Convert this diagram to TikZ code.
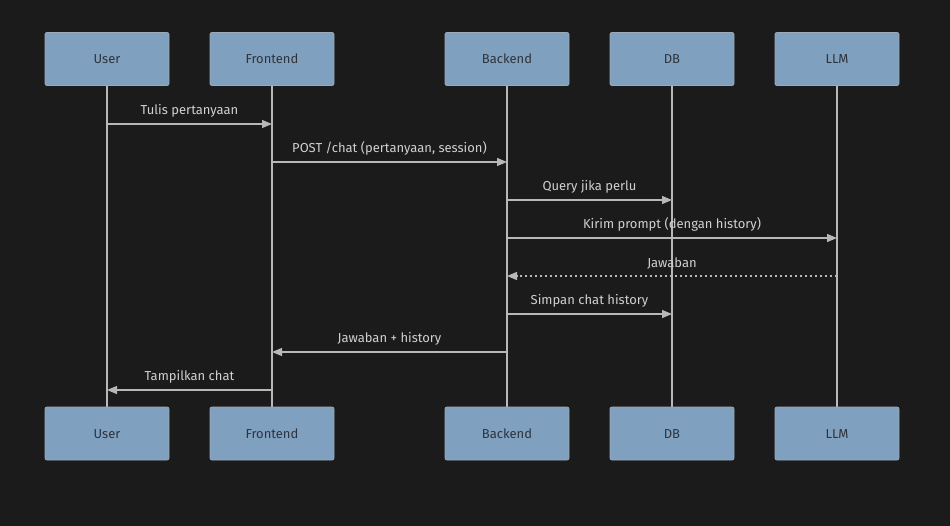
\documentclass[tikz,border=0pt]{standalone}
\usepackage{fontspec}
\setmainfont{Fira Sans}
\usepackage{xcolor}
\usetikzlibrary{arrows.meta}

\definecolor{bgdark}{HTML}{1B1B1B}
\definecolor{actorfill}{HTML}{80A0C0}
\definecolor{actorline}{HTML}{9AAAB8}
\definecolor{actortext}{HTML}{2E343C}
\definecolor{wire}{HTML}{B8B8B8}
\definecolor{msgtext}{HTML}{D0D0D0}

\tikzset{
    actor/.style={draw=actorline, fill=actorfill, rounded corners=2pt, line width=0.8pt,
        minimum width=124pt, minimum height=53pt, text height=11pt, text depth=1pt,
        text=actortext, font=\fontsize{13}{15}\selectfont},
    lifeline/.style={draw=wire, line width=1.2pt},
    msg/.style={draw=wire, line width=1.2pt, -{Triangle[length=10pt,width=8pt]}},
    reply/.style={msg, dash pattern=on 2.5pt off 2.5pt},
    msglabel/.style={text=msgtext, font=\fontsize{13}{15}\selectfont}
}

\begin{document}
\begin{tikzpicture}[x=1pt,y=-1pt]
    \fill[bgdark] (0,0) rectangle (950,526);
    \useasboundingbox (0,0) rectangle (950,526);

    % participants, top and bottom
    \foreach \nm/\lbl/\xx in {user/User/107, front/Frontend/272, back/Backend/507, db/DB/672, llm/LLM/837}{
        \draw[lifeline] (\xx,86) -- (\xx,407);
        \node[actor] (\nm top) at (\xx,59) {\lbl};
        \node[actor] (\nm bot) at (\xx,433.5) {\lbl};
    }

    % message points on the lifelines
    \foreach \nm/\xx in {user/107, front/272, back/507, db/672, llm/837}{
        \foreach \i/\yy in {1/124, 2/162, 3/200, 4/238, 5/276, 6/314, 7/352, 8/390}{
            \coordinate (\nm\i) at (\xx,\yy);
        }
    }

    % messages
    \draw[msg] (user1) -- node[msglabel, above=3pt] {Tulis pertanyaan} (front1);
    \draw[msg] (front2) -- node[msglabel, above=3pt] {POST /chat (pertanyaan, session)} (back2);
    \draw[msg] (back3) -- node[msglabel, above=3pt] {Query jika perlu} (db3);
    \draw[msg] (back4) -- node[msglabel, above=3pt] {Kirim prompt (dengan history)} (llm4);
    \draw[reply] (llm5) -- node[msglabel, above=3pt] {Jawaban} (back5);
    \draw[msg] (back6) -- node[msglabel, above=3pt] {Simpan chat history} (db6);
    \draw[msg] (back7) -- node[msglabel, above=3pt] {Jawaban + history} (front7);
    \draw[msg] (front8) -- node[msglabel, above=3pt] {Tampilkan chat} (user8);
\end{tikzpicture}
\end{document}
